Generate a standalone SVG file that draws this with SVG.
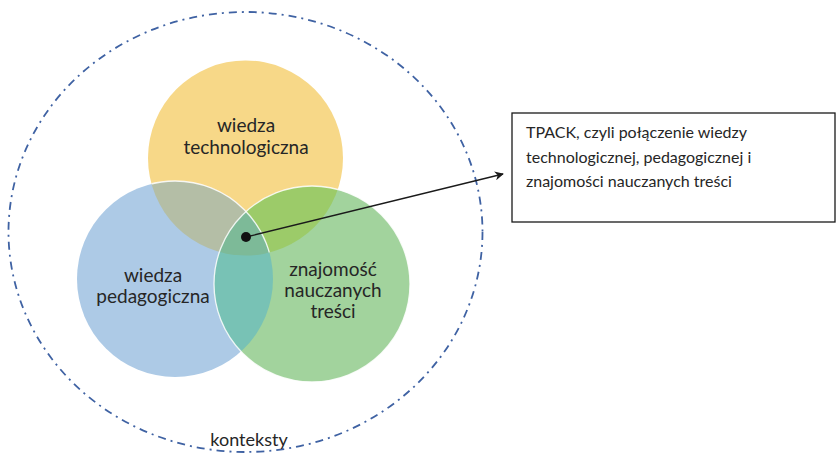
<svg xmlns="http://www.w3.org/2000/svg" width="838" height="460" viewBox="0 0 838 460">
<style>
.lbl{font-family:Lato,"Liberation Sans",Arial,sans-serif;font-size:19px;fill:#262626;text-anchor:middle}
.box{font-family:Lato,"Liberation Sans",Arial,sans-serif;font-size:16px;fill:#262626}
.edge{fill:none;stroke:#ffffff;stroke-width:1.3;stroke-opacity:0.85}
</style>
<defs>
<clipPath id="cY"><circle cx="245.5" cy="158" r="97.5"/></clipPath>
<clipPath id="cB"><circle cx="175" cy="279" r="98"/></clipPath>
<marker id="arr" viewBox="0 0 10 10" refX="9" refY="5" markerWidth="9" markerHeight="9" markerUnits="userSpaceOnUse" orient="auto">
<path d="M0,0 L10,5 L0,10 L3,5 Z" fill="#1a1a1a"/>
</marker>
</defs>
<g id="context">
<ellipse cx="245.5" cy="232" rx="237" ry="220" fill="none" stroke="#3F62A3" stroke-width="1.8" stroke-dasharray="8 5 2 5"/>
<text class="lbl" x="249" y="446" style="font-size:18px">konteksty</text>
</g>
<g id="tech">
<circle cx="245.5" cy="158" r="97.5" fill="#F7D888"/>
</g>
<g id="ped">
<circle cx="175" cy="279" r="98" fill="#ADCAE6"/>
</g>
<g id="content">
<circle cx="312" cy="284" r="98" fill="#A2D39D"/>
</g>
<g id="overlaps">
<g clip-path="url(#cY)"><circle cx="175" cy="279" r="98" fill="#B4BEA6"/></g>
<g clip-path="url(#cY)"><circle cx="312" cy="284" r="98" fill="#9CCB69"/></g>
<g clip-path="url(#cB)"><circle cx="312" cy="284" r="98" fill="#78C2B5"/></g>
<g clip-path="url(#cB)"><g clip-path="url(#cY)"><circle cx="312" cy="284" r="98" fill="#7DBA98"/></g></g>
<g clip-path="url(#cY)"><circle class="edge" cx="175" cy="279" r="98"/></g>
<circle class="edge" cx="312" cy="284" r="98"/>
</g>
<g id="labels">
<text class="lbl" x="246" y="132">wiedza</text>
<text class="lbl" x="246" y="154">technologiczna</text>
<text class="lbl" x="153" y="282">wiedza</text>
<text class="lbl" x="153" y="303">pedagogiczna</text>
<text class="lbl" x="333" y="276">znajomość</text>
<text class="lbl" x="333" y="297">nauczanych</text>
<text class="lbl" x="333" y="318">treści</text>
</g>
<g id="connectors">
<line x1="246" y1="237" x2="503" y2="174" stroke="#1a1a1a" stroke-width="1.3" marker-end="url(#arr)"/>
<circle cx="246" cy="237" r="5" fill="#111111"/>
</g>
<g id="tpack">
<rect x="512" y="113" width="323" height="109" fill="#ffffff" stroke="#1a1a1a" stroke-width="1.3"/>
<text class="box" x="526" y="138">TPACK, czyli połączenie wiedzy</text>
<text class="box" x="526" y="163">technologicznej, pedagogicznej i</text>
<text class="box" x="526" y="187">znajomości nauczanych treści</text>
</g>
</svg>
